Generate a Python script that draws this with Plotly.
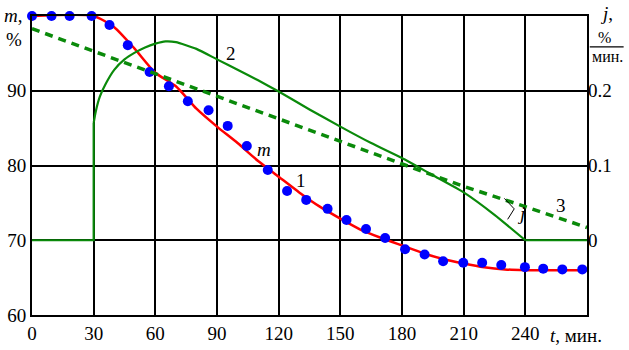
import plotly.graph_objects as go

# ---- data ----
t_points = [0, 9.5, 18.3, 29, 37.7, 46.6, 57.2, 66.6, 75.8, 85.9, 95.2, 104.5, 114.7, 124.1,
            133.4, 143.8, 153, 162.5, 171.8, 181.5, 191, 200, 209.8, 219, 228.3, 239.8, 248.7, 258, 267.7]
m_points = [100, 100, 100, 100, 98.8, 96.1, 92.5, 90.6, 88.6, 87.4, 85.3, 82.6, 79.4, 76.6,
            75.4, 74.2, 72.7, 71.5, 70.3, 68.8, 68.1, 67.2, 67.0, 67.0, 66.7, 66.4, 66.2, 66.1, 66.1]

t_model = [0, 30, 40, 50, 60, 70, 80, 90, 100, 110, 120, 130, 140, 150, 160, 170, 180, 190,
           200, 210, 220, 230, 240, 270]
m_model = [100, 100, 98.5, 95.6, 92.4, 90.6, 87.6, 85.2, 83.0, 80.6, 78.5, 76.4, 74.5, 72.9,
           71.4, 70.3, 69.3, 68.3, 67.5, 66.9, 66.4, 66.1, 66.0, 66.0]

t_j2 = [0, 30, 30, 31, 33, 36, 40, 45, 50, 55, 60, 65, 70, 80, 90, 100, 110, 120, 135, 150, 165,
        180, 195, 210, 225, 240, 270]
j2 = [0, 0, 0.157, 0.172, 0.192, 0.210, 0.228, 0.242, 0.251, 0.258, 0.263, 0.266, 0.265, 0.256,
      0.242, 0.228, 0.214, 0.199, 0.175, 0.152, 0.130, 0.110, 0.087, 0.064, 0.034, 0, 0]

t_j3 = [0, 30, 60, 90, 120, 150, 180, 210, 240, 270]
j3 = [0.283, 0.253, 0.223, 0.193, 0.162, 0.132, 0.102, 0.072, 0.045, 0.017]

x_ticks = [0, 30, 60, 90, 120, 150, 180, 210, 240]
y_ticks = [60, 70, 80, 90]
y2_ticks = [0, 0.1, 0.2]
y2_ticktext = ["0", "0.1", "0.2"]

FONT = "Liberation Serif, Times New Roman, serif"
GREEN = "#0a8a0a"
FS = 19

fig = go.Figure()
# curve 2: vertical jump and flat tail drawn linearly, the middle as a smooth curve
fig.add_trace(go.Scatter(x=t_j2[:3], y=j2[:3], yaxis="y2", mode="lines",
                         line=dict(color=GREEN, width=2.2), hoverinfo="skip"))
fig.add_trace(go.Scatter(x=t_j2[2:-1], y=j2[2:-1], yaxis="y2", mode="lines",
                         line=dict(color=GREEN, width=2.2, shape="spline", smoothing=0.5),
                         hoverinfo="skip"))
fig.add_trace(go.Scatter(x=t_j2[-2:], y=j2[-2:], yaxis="y2", mode="lines",
                         line=dict(color=GREEN, width=2.2), hoverinfo="skip"))
fig.add_trace(go.Scatter(x=t_j3, y=j3, yaxis="y2", mode="lines",
                         line=dict(color=GREEN, width=3.5, dash="8px,6px"), hoverinfo="skip"))
fig.add_trace(go.Scatter(x=t_model, y=m_model, mode="lines", cliponaxis=False,
                         line=dict(color="#ff0000", width=2.5, shape="spline", smoothing=0.6)))
fig.add_trace(go.Scatter(x=t_points, y=m_points, mode="markers", cliponaxis=False,
                         marker=dict(color="#0000ff", size=10)))

ann_font = dict(family=FONT, size=FS, color="black")
small_font = dict(family=FONT, size=16, color="black")
annotations = [
    dict(x=97, y=95.0, text="2", showarrow=False, font=ann_font),
    dict(x=113, y=82.1, text="<i>m</i>", showarrow=False, font=ann_font),
    dict(x=131, y=78.0, text="1", showarrow=False, font=ann_font),
    dict(x=257.5, y=74.7, text="3", showarrow=False, font=ann_font),
    dict(x=238.0, y=73.6, text="<i>j</i>", showarrow=False, font=ann_font),
    # axis titles
    dict(xref="paper", yref="paper", x=0, y=1, xanchor="left", yanchor="middle",
         xshift=-30, yshift=1, text="<i>m</i>,", showarrow=False, font=ann_font),
    dict(xref="paper", yref="paper", x=0, y=1, xanchor="left", yanchor="middle",
         xshift=-28, yshift=-23, text="%", showarrow=False, font=ann_font),
    dict(xref="paper", yref="paper", x=1, y=1, xanchor="left", yanchor="middle",
         xshift=11, yshift=3, text="<i>j</i>,", showarrow=False, font=ann_font),
    dict(xref="paper", yref="paper", x=1, y=1, xanchor="center", yanchor="middle",
         xshift=17, yshift=-21, text="%", showarrow=False, font=small_font),
    dict(xref="paper", yref="paper", x=1, y=1, xanchor="center", yanchor="middle",
         xshift=20, yshift=-40, text="мин.", showarrow=False, font=small_font),
    dict(xref="paper", yref="paper", x=1, y=0, xanchor="left", yanchor="middle",
         xshift=-39, yshift=-20, text="<i>t</i>, мин.", showarrow=False, font=ann_font),
]

shapes = [
    # fraction bar on the right-axis label
    dict(type="line", xref="paper", yref="paper", x0=1.005, x1=1.066, y0=0.897, y1=0.897,
         line=dict(color="black", width=1.2)),
    # leader bracket for j
    dict(type="path", xref="x", yref="y", path="M 229.8 75.6 L 234.6 74.2 L 231.4 72.8",
         line=dict(color="black", width=1)),
]

fig.update_layout(
    width=629, height=350,
    margin=dict(l=32, r=42, t=16, b=35, autoexpand=False),
    paper_bgcolor="white", plot_bgcolor="white",
    showlegend=False,
    font=dict(family=FONT, size=FS, color="black"),
    xaxis=dict(range=[0, 270], tickvals=x_ticks, showgrid=True, gridcolor="black", gridwidth=1.5,
               showline=True, linecolor="black", linewidth=2, mirror=True, zeroline=False,
               ticks="", tickfont=dict(family=FONT, size=FS)),
    yaxis=dict(range=[60, 100], tickvals=y_ticks, showgrid=True, gridcolor="black", gridwidth=1.5,
               showline=True, linecolor="black", linewidth=2, mirror=True, zeroline=False,
               ticks="", tickfont=dict(family=FONT, size=FS)),
    yaxis2=dict(range=[-0.1, 0.3], overlaying="y", side="right", tickvals=y2_ticks,
                ticktext=y2_ticktext, showgrid=False, zeroline=False, showline=False,
                ticks="", tickfont=dict(family=FONT, size=FS)),
    annotations=annotations,
    shapes=shapes,
)

fig.write_html("out.html", config={"displayModeBar": False},
               post_script="document.body.style.margin='0';document.body.style.overflow='hidden';")
